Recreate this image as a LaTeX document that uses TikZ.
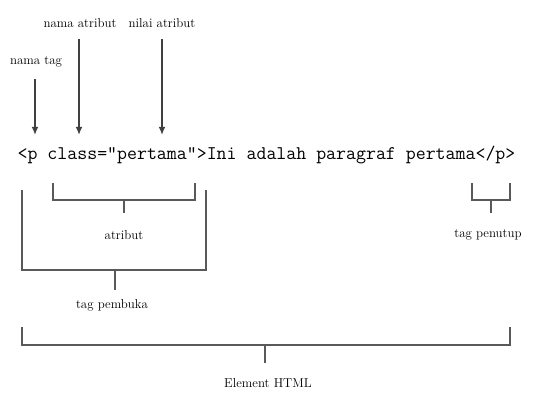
\documentclass[tikz,border=0pt]{standalone}
\usepackage{tikz}
\usetikzlibrary{arrows.meta}

\begin{document}
\begin{tikzpicture}[x=0.03cm,y=-0.03cm,
  etiqueta/.style={font=\fontsize{11}{11}\selectfont, inner sep=1pt},
  flecha/.style={-{Latex[length=7pt,width=6pt]}, line width=1.5pt, draw=black!75},
  llave/.style={line width=1.9pt, draw=black!65}]
\useasboundingbox (0,0) rectangle (535,396);

% linea de codigo HTML
\node[font=\ttfamily\fontsize{16.5}{16.5}\selectfont, inner sep=0pt] (codigo) at (266.5,155) {<p class="pertama">Ini adalah paragraf pertama</p>};

% etiquetas de arriba
\node[etiqueta] (ntag) at (36,62) {nama tag};
\node[etiqueta] (natr) at (80,23) {nama atribut};
\node[etiqueta] (vatr) at (162,23) {nilai atribut};

% puntas de las flechas
\coordinate (ptag) at (35,135);
\coordinate (patr) at (79,135);
\coordinate (pval) at (162,135);

% flechas
\draw[flecha, shorten <=9pt] (ntag.south -| ptag) -- (ptag);
\draw[flecha, shorten <=9pt] (natr.south -| patr) -- (patr);
\draw[flecha, shorten <=9pt] (vatr.south -| pval) -- (pval);

% llave atribut
\coordinate (a1) at (53,200);
\coordinate (a2) at (195,200);
\draw[llave] (a1) ++(0,-17) -- (a1) -- (a2) -- ++(0,-17);
\draw[llave] (124,200) -- ++(0,13);
\node[etiqueta] (atr) at (124,235) {atribut};

% llave tag pembuka
\coordinate (b1) at (22,270);
\coordinate (b2) at (206,270);
\draw[llave] (b1) ++(0,-80) -- (b1) -- (b2) -- ++(0,-80);
\draw[llave] (115,270) -- ++(0,20);
\node[etiqueta] (tbuka) at (112,305) {tag pembuka};

% llave tag penutup
\coordinate (c1) at (472,200);
\coordinate (c2) at (510,200);
\draw[llave] (c1) ++(0,-17) -- (c1) -- (c2) -- ++(0,-17);
\draw[llave] (491,200) -- ++(0,13);
\node[etiqueta] (ttutup) at (488,235) {tag penutup};

% llave elemento
\coordinate (d1) at (22,345);
\coordinate (d2) at (510,345);
\draw[llave] (d1) ++(0,-18) -- (d1) -- (d2) -- ++(0,-18);
\draw[llave] (265,345) -- ++(0,18);
\node[etiqueta] (elem) at (268,383) {Element HTML};
\end{tikzpicture}
\end{document}
